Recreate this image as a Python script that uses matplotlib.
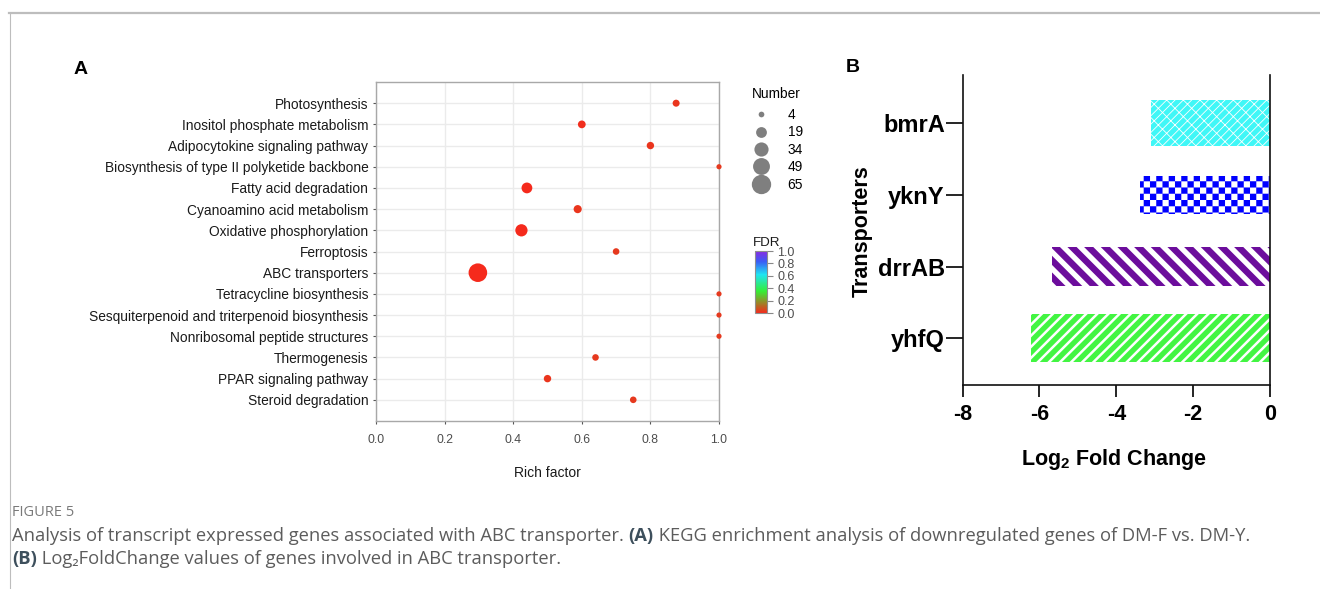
import numpy as np
import matplotlib
matplotlib.use("Agg")
import matplotlib.pyplot as plt
import matplotlib.hatch as mhatch
from matplotlib.path import Path
from matplotlib.lines import Line2D
from matplotlib.colors import LinearSegmentedColormap, Normalize
import matplotlib.cm as cm

# ---------------- data ----------------
pathways = ["Photosynthesis", "Inositol phosphate metabolism", "Adipocytokine signaling pathway",
            "Biosynthesis of type II polyketide backbone", "Fatty acid degradation",
            "Cyanoamino acid metabolism", "Oxidative phosphorylation", "Ferroptosis",
            "ABC transporters", "Tetracycline biosynthesis",
            "Sesquiterpenoid and triterpenoid biosynthesis", "Nonribosomal peptide structures",
            "Thermogenesis", "PPAR signaling pathway", "Steroid degradation"]
rich_factor = [0.875, 0.60, 0.80, 1.0, 0.44, 0.588, 0.424, 0.70, 0.297, 1.0, 1.0, 1.0, 0.64, 0.50, 0.75]
gene_number = [7, 9, 8, 3, 19, 10, 25, 6, 60, 3, 3, 3, 6, 8, 6]
fdr = [0.02, 0.01, 0.02, 0.03, 0.0, 0.02, 0.0, 0.03, 0.0, 0.03, 0.03, 0.03, 0.03, 0.02, 0.03]
legend_numbers = [4, 19, 34, 49, 65]
rich_ticks = [0.0, 0.2, 0.4, 0.6, 0.8, 1.0]
fdr_ticks = [0.0, 0.2, 0.4, 0.6, 0.8, 1.0]

transporters = ["yhfQ", "drrAB", "yknY", "bmrA"]
log2fc = [-6.21, -5.67, -3.38, -3.09]
fc_ticks = [-8, -6, -4, -2, 0]

# ---------------- custom checkerboard hatch (replaces '*') ----------------
class CheckerHatch(mhatch.HatchPatternBase):
    def __init__(self, hatch, density):
        self.n = hatch.count('*') * 16
        self.num_vertices = (self.n * self.n // 2) * 5 if self.n else 0

    def set_vertices_and_codes(self, vertices, codes):
        n = self.n
        s = 1.0 / n
        k = 0
        for i in range(n):
            for j in range(n):
                if (i + j) % 2 == 0:
                    x0, y0 = i * s, j * s
                    vertices[k:k + 5] = [(x0, y0), (x0 + s, y0), (x0 + s, y0 + s), (x0, y0 + s), (x0, y0)]
                    codes[k:k + 5] = [Path.MOVETO, Path.LINETO, Path.LINETO, Path.LINETO, Path.CLOSEPOLY]
                    k += 5

mhatch._hatch_types = [CheckerHatch if t is mhatch.Stars else t for t in mhatch._hatch_types]

W, H = 1320, 589
fig = plt.figure(figsize=(W / 100, H / 100), dpi=100)
fig.patch.set_facecolor("white")

def fx(x):
    return x / W

def fy(y):
    return 1 - y / H

FONT = "Liberation Sans"
plt.rcParams["font.family"] = [FONT, "DejaVu Sans"]
plt.rcParams["mathtext.fontset"] = "custom"
plt.rcParams["mathtext.rm"] = FONT
plt.rcParams["mathtext.bf"] = FONT + ":bold"

# ---------------- frame lines ----------------
fig.add_artist(Line2D([fx(9), 1.0], [fy(12.5), fy(12.5)], color="#bdbdbd", lw=1.6, transform=fig.transFigure))
fig.add_artist(Line2D([fx(9.5), fx(9.5)], [fy(12.5), 0.0], color="#bdbdbd", lw=0.8, transform=fig.transFigure))

# ---------------- Panel A ----------------
fdr_cmap = LinearSegmentedColormap.from_list(
    "fdr", [(0.0, "#f52a1c"), (0.35, "#35ee35"), (0.62, "#20e4f2"), (0.83, "#3a5cf5"), (1.0, "#8a2be2")])
norm = Normalize(0, 1)

def diam_px(n):
    return np.sqrt(10 + 5.6 * np.asarray(n, dtype=float))

axA = fig.add_axes([fx(376), fy(421), fx(719) - fx(376), fy(82) - fy(421)])
ypos = np.arange(len(pathways))[::-1]
axA.set_xlim(0, 1.0)
axA.set_ylim(-1, len(pathways))
axA.set_axisbelow(True)
axA.grid(True, color="#ebebeb", lw=1.0)
sizes = (diam_px(gene_number) * 0.72) ** 2
axA.scatter(rich_factor, ypos, s=sizes, c=fdr, cmap=fdr_cmap, norm=norm, edgecolors="none",
            clip_on=False, zorder=3)
axA.set_yticks(ypos)
axA.set_yticklabels(pathways, fontsize=9.9, color="#1a1a1a")
axA.set_xticks(rich_ticks)
axA.set_xticklabels([f"{t:.1f}" for t in rich_ticks], fontsize=8.8, color="#4d4d4d")
axA.tick_params(axis="both", length=2.5, width=0.8, color="#555555", pad=3)
axA.tick_params(axis="x", pad=7)
for sp in axA.spines.values():
    sp.set_color("#a8a8a8")
    sp.set_linewidth(1.0)
fig.text(fx(547.5), fy(473), "Rich factor", ha="center", va="center", fontsize=10, color="#1a1a1a")
fig.text(fx(74), fy(69), "A", ha="left", va="center", fontsize=14, fontweight="bold")

# size legend
handles = [Line2D([], [], ls="none", marker="o", markersize=diam_px(n) * 0.72,
                  markerfacecolor="#7f7f7f", markeredgecolor="none") for n in legend_numbers]
leg = axA.legend(handles, [str(n) for n in legend_numbers], title="Number", loc="upper left",
                 bbox_to_anchor=(fx(752), fy(87)), bbox_transform=fig.transFigure, frameon=False,
                 fontsize=9.9, title_fontsize=9.9, handlelength=1.3, handletextpad=1.3,
                 labelspacing=0.25, borderpad=0, borderaxespad=0, alignment="left")
leg._legend_box.sep = 5

# colorbar
cax = fig.add_axes([fx(755), fy(313), fx(767) - fx(755), fy(251) - fy(313)])
cb = fig.colorbar(cm.ScalarMappable(norm=norm, cmap=fdr_cmap), cax=cax, ticks=fdr_ticks)
cb.ax.set_yticklabels([f"{t:.1f}" for t in fdr_ticks], fontsize=9, color="#4d4d4d")
cb.ax.tick_params(length=4, width=0.8, color="#888888", pad=3.5)
cb.outline.set_edgecolor("#8f8f8f")
cb.outline.set_linewidth(0.8)
fig.text(fx(753), fy(243), "FDR", ha="left", va="center", fontsize=9.6, color="#1a1a1a")

# ---------------- Panel B ----------------
axB = fig.add_axes([fx(962.5), fy(385), fx(1270) - fx(962.5), fy(75) - fy(385)])
bar_colors = ["#42f542", "#6c0d9c", "#0000ff", "#3ff7f7"]
bar_hatches = ["///", "\\\\", "*", "////\\\\"]
hatch_lw = [1.8, 3.8, 0.05, 0.6]
bar_heights = [0.665, 0.54, 0.53, 0.65]
ybar = np.arange(len(transporters))
for i in range(len(transporters)):
    plt.rcParams["hatch.linewidth"] = hatch_lw[i]
    if bar_hatches[i] == "*":
        face, hcol = "white", bar_colors[i]
    else:
        face, hcol = bar_colors[i], "white"
    bars = axB.barh(ybar[i], log2fc[i], height=bar_heights[i], color=face, edgecolor=hcol,
                    linewidth=0, hatch=bar_hatches[i], zorder=2)
    for b in bars:
        if hasattr(b, "set_hatch_linewidth"):
            b.set_hatch_linewidth(hatch_lw[i])
axB.set_xlim(-8, 0)
axB.set_ylim(-0.65, 3.67)
axB.set_yticks(ybar)
axB.set_yticklabels(transporters, fontsize=17, fontweight="bold")
axB.set_xticks(fc_ticks)
axB.set_xticklabels([str(t) for t in fc_ticks], fontsize=15.5, fontweight="bold")
axB.tick_params(axis="y", length=12, width=1.2, pad=0.8)
axB.tick_params(axis="x", length=8.5, width=1.2, pad=5)
axB.spines["top"].set_visible(False)
for k in ["left", "right", "bottom"]:
    axB.spines[k].set_linewidth(1.2)
    axB.spines[k].set_color("#111111")
axB.tick_params(axis="y", right=False)
fig.text(fx(862), fy(231), "Transporters", rotation=90, ha="center", va="center",
         fontsize=15.5, fontweight="bold")
fig.text(fx(1114), fy(460), r"Log$_{\mathbf{2}}$ Fold Change", ha="center", va="center",
         fontsize=15.5, fontweight="bold")
fig.text(fx(846), fy(68), "B", ha="left", va="center", fontsize=14, fontweight="bold")

# ---------------- caption ----------------
CAP = ["Open Sans", "DejaVu Sans"]
fig.text(fx(12), fy(512), "FIGURE 5", ha="left", va="center", fontsize=10.5, color="#7a7a7a",
         family=CAP)

renderer = fig.canvas.get_renderer()

def text_width(s, size, weight):
    t1 = fig.text(0, 0, "a" + s + "a", fontsize=size, fontweight=weight, family=CAP)
    t2 = fig.text(0, 0, "aa", fontsize=size, fontweight=weight, family=CAP)
    w = t1.get_window_extent(renderer).width - t2.get_window_extent(renderer).width
    t1.remove()
    t2.remove()
    return w

line1 = [("Analysis of transcript expressed genes associated with ABC transporter. ", "normal"),
         ("(A)", "bold"),
         (" KEGG enrichment analysis of downregulated genes of DM-F vs. DM-Y.", "normal")]
line2 = [("(B)", "bold"),
         (" Log\u2082FoldChange values of genes involved in ABC transporter.", "normal")]

base = 10.0
w1 = sum(text_width(s, base, wgt) for s, wgt in line1)
cap_size = base * (1236.0 / w1)
cap_color = "#5c5c5c"

def draw_line(pieces, x0, y):
    x = x0
    for s, wgt in pieces:
        fig.text(fx(x), fy(y), s, ha="left", va="center", fontsize=cap_size, fontweight=wgt,
                 color=("#3d4f5c" if wgt == "bold" else cap_color), family=CAP)
        x += text_width(s, cap_size, wgt)

draw_line(line1, 12, 536)
draw_line(line2, 12, 559)

fig.savefig("out.png", dpi=100, facecolor="white")
